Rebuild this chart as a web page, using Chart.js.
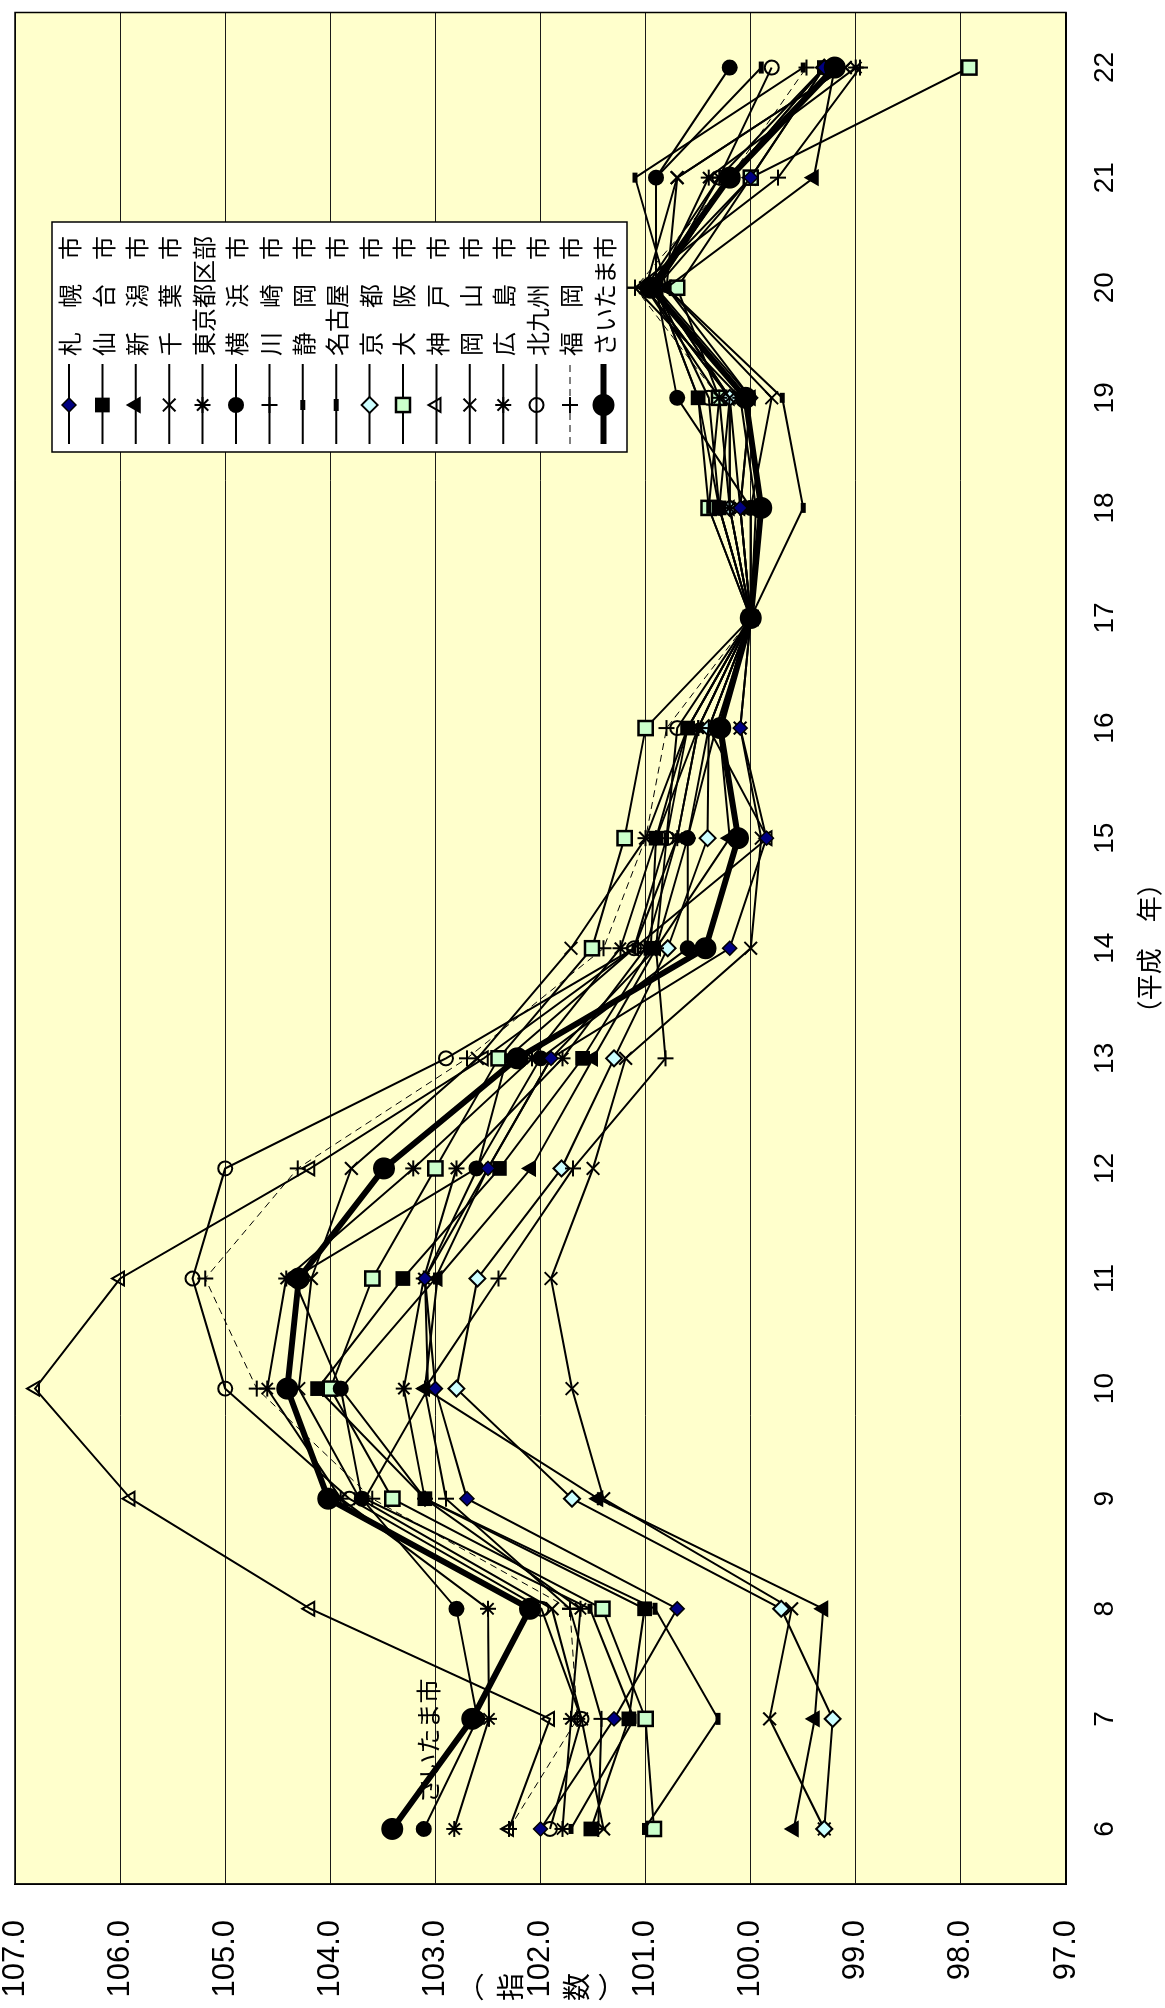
<!DOCTYPE html>
<html>
<head>
<meta charset="utf-8">
<script src="https://cdn.jsdelivr.net/npm/chart.js@4.4.0/dist/chart.umd.min.js"></script>
<style>
html, body { margin: 0; padding: 0; background: #fff; }
body { width: 1165px; height: 2008px; overflow: hidden; position: relative; }
/* the chart is drawn landscape and turned a quarter turn left */
#wrap { position: absolute; left: 0; top: 0; width: 2008px; height: 1165px;
        transform-origin: 0 0; transform: translate(0, 2008px) rotate(-90deg); }
</style>
</head>
<body>
<div id="wrap"><canvas id="cpiChart" width="2008" height="1165"></canvas></div>
<script>
// 平成6年〜22年
const years = ['6','7','8','9','10','11','12','13','14','15','16','17','18','19','20','21','22'];
const yTicks = [97, 98, 99, 100, 101, 102, 103, 104, 105, 106, 107];

const sapporo    = [102.0, 101.3, 100.7, 102.7, 103.0, 103.1, 102.5, 101.9, 100.2, 99.85, 100.1, 100, 100.1, 100.0, 100.9, 100.0, 99.3];
const sendai     = [101.52, 101.16, 101.01, 103.1, 104.12, 103.31, 102.39, 101.6, 100.95, 100.9, 100.6, 100, 100.3, 100.5, 100.9, 100.2, 99.3];
const niigata    = [99.59, 99.39, 99.31, 101.45, 103.1, 102.98, 102.09, 101.5, 100.9, 100.2, 100.3, 100, 100.1, 100.0, 100.8, 99.4, 99.2];
const chiba      = [101.4, 101.61, 101.89, 103.72, 104.3, 104.18, 103.8, 102.6, 101.71, 101.0, 100.6, 100, 100.3, 100.2, 101.0, 100.7, 99.1];
const tokyo      = [102.82, 102.49, 102.5, 103.9, 104.6, 104.42, 103.21, 102.08, 101.24, 100.9, 100.5, 100, 100.2, 100.3, 101.0, 100.3, 99.3];
const yokohama   = [103.11, 102.6, 102.8, 103.7, 103.9, 104.35, 102.61, 102.0, 100.6, 100.6, 100.33, 100, 100.0, 100.7, 100.9, 100.9, 100.2];
const kawasaki   = [101.45, 101.42, 101.72, 102.9, 103.1, 102.4, 101.69, 100.81, 100.9, 100.6, 100.4, 100, 99.95, 100.1, 101.1, 99.74, 98.96];
const shizuoka   = [101.71, 101.11, 101.53, 103.67, 103.07, 103.1, 102.6, 102.32, 101.11, 100.7, 100.5, 100, 99.5, 99.7, 100.8, 101.1, 99.5];
const nagoya     = [101.01, 100.31, 100.91, 103.1, 103.9, 103.0, 102.5, 101.9, 100.9, 100.8, 100.6, 100, 100.4, 100.5, 100.9, 100.9, 99.9];
const kyoto      = [99.3, 99.22, 99.71, 101.7, 102.8, 102.6, 101.8, 101.3, 100.79, 100.41, 100.4, 100, 100.2, 100.2, 100.9, 100.2, 99.3];
const osaka      = [100.92, 101.0, 101.41, 103.41, 104.0, 103.6, 103.0, 102.4, 101.51, 101.2, 101.0, 100, 100.4, 100.3, 100.7, 100.0, 97.92];
const kobe       = [102.3, 101.91, 104.19, 105.9, 106.81, 106.0, 104.19, 102.54, 101.11, 99.84, 100.4, 100, 100.2, 100.2, 101.0, 100.0, 99.3];
const okayama    = [99.3, 99.82, 99.61, 101.4, 101.7, 101.9, 101.5, 101.19, 100.0, 99.9, 100.1, 100, 100.0, 99.8, 100.8, 100.7, 99.1];
const hiroshima  = [101.79, 101.71, 101.62, 103.1, 103.3, 103.11, 102.8, 101.79, 101.0, 100.7, 100.5, 100, 100.1, 100.2, 100.9, 100.4, 99.0];
const kitakyushu = [101.91, 101.61, 101.99, 103.82, 105.0, 105.31, 105.0, 102.9, 101.11, 100.8, 100.7, 100, 100.3, 100.4, 100.9, 100.3, 99.8];
const fukuoka    = [102.3, 101.65, 101.72, 103.6, 104.7, 105.19, 104.31, 102.7, 101.4, 101.0, 100.8, 100, 100.2, 100.3, 101.1, 100.2, 99.47];
const saitama    = [103.41, 102.65, 102.1, 104.02, 104.41, 104.3, 103.49, 102.22, 100.43, 100.12, 100.29, 100, 99.9, 100.05, 100.95, 100.2, 99.2];

const PLOT_BG = '#FFFFCC';

function city(label, data, pointStyle, radius, fill, extra) {
    return Object.assign({
        label: label,
        data: data,
        borderColor: '#000',
        borderWidth: 2,
        pointStyle: pointStyle,
        pointRadius: radius,
        pointBackgroundColor: fill,
        pointBorderColor: '#000',
        pointBorderWidth: 2,
        tension: 0
    }, extra || {});
}

const datasets = [
    city('札　幌　市', sapporo, 'rectRot', 7, '#000080', { pointBorderWidth: 1.5 }),
    city('仙　台　市', sendai, 'rect', 9, '#000'),
    city('新　潟　市', niigata, 'triangle', 8, '#000'),
    city('千　葉　市', chiba, 'crossRot', 9, '#000'),
    city('東京都区部', tokyo, 'star', 8, '#000'),
    city('横　浜　市', yokohama, 'circle', 7, '#000'),
    city('川　崎　市', kawasaki, 'cross', 8, '#000'),
    city('静　岡　市', shizuoka, 'line', 5, '#000', { pointBorderWidth: 5 }),
    city('名古屋　市', nagoya, 'line', 6, '#000', { pointBorderWidth: 5 }),
    city('京　都　市', kyoto, 'rectRot', 8, '#CCFFFF'),
    city('大　阪　市', osaka, 'rect', 10, '#CCFFCC', { pointBorderWidth: 2.5 }),
    city('神　戸　市', kobe, 'triangle', 8, 'rgba(0,0,0,0)'),
    city('岡　山　市', okayama, 'crossRot', 9, '#000'),
    city('広　島　市', hiroshima, 'star', 8, '#000'),
    city('北九州　市', kitakyushu, 'circle', 7, 'rgba(0,0,0,0)'),
    city('福　岡　市', fukuoka, 'cross', 8, '#000', { borderWidth: 1, borderDash: [7, 5] }),
    city('さいたま市', saitama, 'circle', 10, '#000', { borderWidth: 6, order: -1 })
];

// yellow plot area + frame
const plotFrame = {
    id: 'plotFrame',
    beforeDraw(chart) {
        const { ctx, chartArea: a } = chart;
        ctx.save();
        ctx.fillStyle = PLOT_BG;
        ctx.fillRect(a.left, a.top, a.width, a.height);
        ctx.restore();
    },
    afterDatasetsDraw(chart) {
        const { ctx, chartArea: a } = chart;
        ctx.save();
        ctx.strokeStyle = '#000';
        ctx.lineWidth = 1.5;
        ctx.strokeRect(a.left, a.top, a.width, a.height);
        ctx.restore();
    }
};

// texts that the chart has outside the axes' own labels
const extraText = {
    id: 'extraText',
    afterDraw(chart) {
        const ctx = chart.ctx;
        const xs = chart.scales.x, ys = chart.scales.y;
        ctx.save();
        ctx.fillStyle = '#000';
        ctx.textAlign = 'center';
        ctx.textBaseline = 'middle';
        // label next to the thick line
        ctx.font = '25px "Noto Sans CJK JP"';
        const lx = xs.getPixelForTick(0) * 0.2 + xs.getPixelForTick(1) * 0.8;
        ctx.fillText('さいたま市', lx, ys.getPixelForValue(103.07));
        // y axis title, stacked
        ctx.font = '28px "Noto Sans CJK JP"';
        const cy = (ys.top + ys.bottom) / 2;
        [['︵', -70], ['指', -30], ['数', 36], ['︶', 72]].forEach(function (c) {
            ctx.fillText(c[0], 21, cy + c[1]);
        });
        ctx.restore();
    }
};

// legend box drawn inside the plot
const cityLegend = {
    id: 'cityLegend',
    afterDraw(chart) {
        const ctx = chart.ctx;
        const bx = 1556, by = 52, bw = 230, bh = 575, step = 33.4;
        ctx.save();
        ctx.fillStyle = '#fff';
        ctx.fillRect(bx, by, bw, bh);
        ctx.strokeStyle = '#000';
        ctx.lineWidth = 1.5;
        ctx.strokeRect(bx, by, bw, bh);
        chart.data.datasets.forEach(function (ds, i) {
            const y = by + 17 + i * step;
            ctx.strokeStyle = '#000';
            ctx.lineWidth = ds.borderWidth;
            ctx.setLineDash(ds.borderDash || []);
            ctx.beginPath();
            ctx.moveTo(bx + 8, y);
            ctx.lineTo(bx + 88, y);
            ctx.stroke();
            ctx.setLineDash([]);
            ctx.fillStyle = ds.pointBackgroundColor;
            ctx.lineWidth = ds.pointBorderWidth;
            Chart.helpers.drawPoint(ctx, {
                pointStyle: ds.pointStyle, radius: ds.pointRadius, rotation: 0,
                borderWidth: ds.pointBorderWidth
            }, bx + 47, y);
            ctx.fillStyle = '#000';
            ctx.font = '24px "Noto Sans CJK JP"';
            ctx.textAlign = 'left';
            ctx.textBaseline = 'middle';
            ctx.fillText(ds.label, bx + 96, y + 1);
        });
        ctx.restore();
    }
};

new Chart(document.getElementById('cpiChart').getContext('2d'), {
    type: 'line',
    data: { labels: years, datasets: datasets },
    options: {
        responsive: false,
        devicePixelRatio: 1,
        animation: false,
        layout: { padding: { left: 0, right: 6, top: 15, bottom: 0 } },
        plugins: {
            legend: { display: false },
            tooltip: { enabled: false }
        },
        scales: {
            x: {
                offset: true,
                grid: { display: false, drawTicks: false },
                border: { display: true, color: '#000', width: 1.5 },
                ticks: {
                    color: '#000', padding: 22, maxRotation: 0,
                    font: { family: '"Liberation Sans Narrow", "Liberation Sans", Arial', size: 28 }
                },
                title: {
                    display: true, text: '（平成　年）', color: '#000',
                    font: { family: '"Noto Sans CJK JP"', size: 26 },
                    padding: { top: 0, bottom: 0 }
                },
                afterFit: function (s) { s.height = 99; s.paddingLeft = 0; s.paddingRight = 0; }
            },
            y: {
                min: yTicks[0],
                max: yTicks[yTicks.length - 1],
                afterBuildTicks: function (s) { s.ticks = yTicks.map(function (v) { return { value: v }; }); },
                grid: { color: '#1a1a1a', lineWidth: 1, drawTicks: false },
                border: { display: true, color: '#000', width: 1.5 },
                ticks: {
                    color: '#000', padding: 36,
                    font: { family: '"Liberation Sans", Arial', size: 31 },
                    callback: function (v) { return Number(v).toFixed(1); }
                },
                afterFit: function (s) { s.width = 124; s.paddingTop = 0; s.paddingBottom = 0; }
            }
        }
    },
    plugins: [plotFrame, extraText, cityLegend]
});
</script>
</body>
</html>
